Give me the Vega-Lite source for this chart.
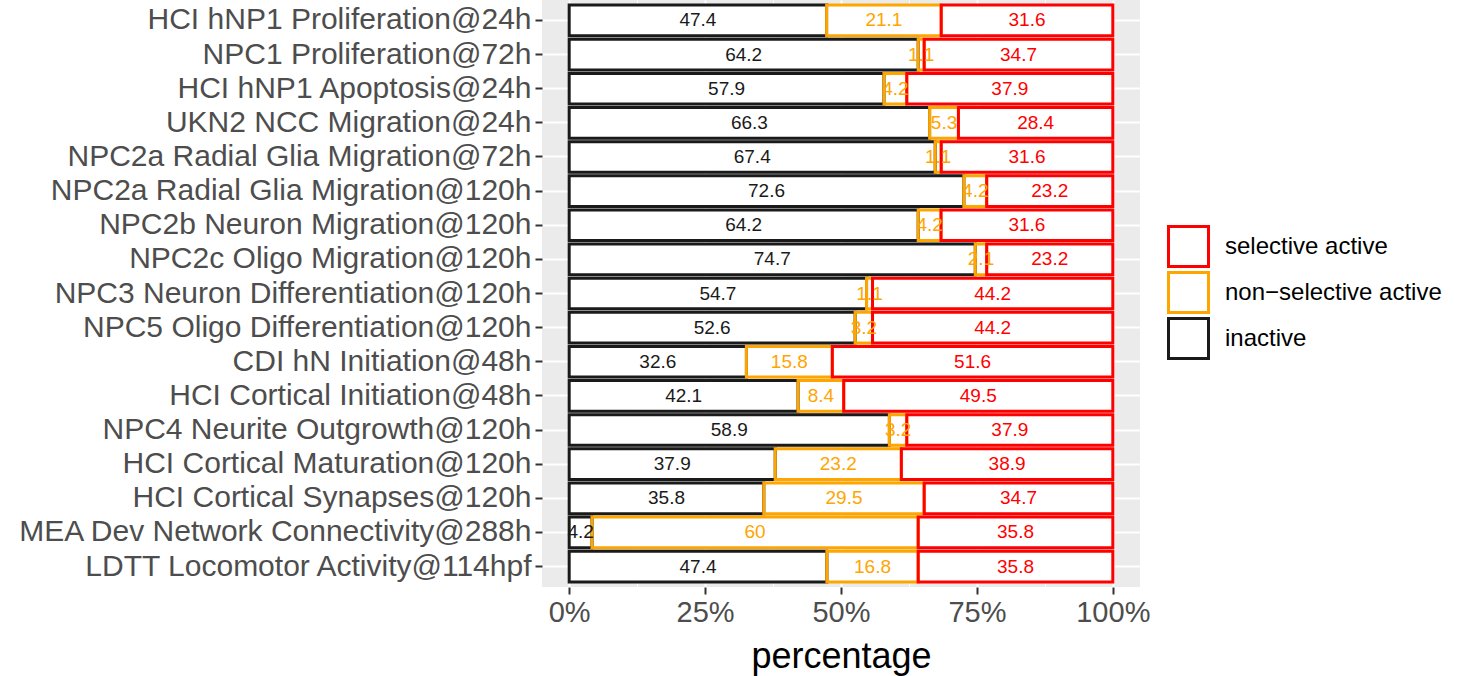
{
  "$schema": "https://vega.github.io/schema/vega-lite/v6.json",
  "width": 598,
  "height": 587,
  "autosize": {"type": "none"},
  "padding": {"left": 542, "top": 0, "right": 330, "bottom": 89},
  "background": "white",
  "config": {"view": {"fill": "#EBEBEB", "stroke": null}, "font": "Liberation Sans"},
  "datasets": {
    "main": [
      {"assay": "HCI hNP1 Proliferation@24h", "status": "inactive", "percent": 47.4},
      {"assay": "HCI hNP1 Proliferation@24h", "status": "non−selective active", "percent": 21.1},
      {"assay": "HCI hNP1 Proliferation@24h", "status": "selective active", "percent": 31.6},
      {"assay": "NPC1 Proliferation@72h", "status": "inactive", "percent": 64.2},
      {"assay": "NPC1 Proliferation@72h", "status": "non−selective active", "percent": 1.1},
      {"assay": "NPC1 Proliferation@72h", "status": "selective active", "percent": 34.7},
      {"assay": "HCI hNP1 Apoptosis@24h", "status": "inactive", "percent": 57.9},
      {"assay": "HCI hNP1 Apoptosis@24h", "status": "non−selective active", "percent": 4.2},
      {"assay": "HCI hNP1 Apoptosis@24h", "status": "selective active", "percent": 37.9},
      {"assay": "UKN2 NCC Migration@24h", "status": "inactive", "percent": 66.3},
      {"assay": "UKN2 NCC Migration@24h", "status": "non−selective active", "percent": 5.3},
      {"assay": "UKN2 NCC Migration@24h", "status": "selective active", "percent": 28.4},
      {"assay": "NPC2a Radial Glia Migration@72h", "status": "inactive", "percent": 67.4},
      {"assay": "NPC2a Radial Glia Migration@72h", "status": "non−selective active", "percent": 1.1},
      {"assay": "NPC2a Radial Glia Migration@72h", "status": "selective active", "percent": 31.6},
      {"assay": "NPC2a Radial Glia Migration@120h", "status": "inactive", "percent": 72.6},
      {"assay": "NPC2a Radial Glia Migration@120h", "status": "non−selective active", "percent": 4.2},
      {"assay": "NPC2a Radial Glia Migration@120h", "status": "selective active", "percent": 23.2},
      {"assay": "NPC2b Neuron Migration@120h", "status": "inactive", "percent": 64.2},
      {"assay": "NPC2b Neuron Migration@120h", "status": "non−selective active", "percent": 4.2},
      {"assay": "NPC2b Neuron Migration@120h", "status": "selective active", "percent": 31.6},
      {"assay": "NPC2c Oligo Migration@120h", "status": "inactive", "percent": 74.7},
      {"assay": "NPC2c Oligo Migration@120h", "status": "non−selective active", "percent": 2.1},
      {"assay": "NPC2c Oligo Migration@120h", "status": "selective active", "percent": 23.2},
      {"assay": "NPC3 Neuron Differentiation@120h", "status": "inactive", "percent": 54.7},
      {"assay": "NPC3 Neuron Differentiation@120h", "status": "non−selective active", "percent": 1.1},
      {"assay": "NPC3 Neuron Differentiation@120h", "status": "selective active", "percent": 44.2},
      {"assay": "NPC5 Oligo Differentiation@120h", "status": "inactive", "percent": 52.6},
      {"assay": "NPC5 Oligo Differentiation@120h", "status": "non−selective active", "percent": 3.2},
      {"assay": "NPC5 Oligo Differentiation@120h", "status": "selective active", "percent": 44.2},
      {"assay": "CDI hN Initiation@48h", "status": "inactive", "percent": 32.6},
      {"assay": "CDI hN Initiation@48h", "status": "non−selective active", "percent": 15.8},
      {"assay": "CDI hN Initiation@48h", "status": "selective active", "percent": 51.6},
      {"assay": "HCI Cortical Initiation@48h", "status": "inactive", "percent": 42.1},
      {"assay": "HCI Cortical Initiation@48h", "status": "non−selective active", "percent": 8.4},
      {"assay": "HCI Cortical Initiation@48h", "status": "selective active", "percent": 49.5},
      {"assay": "NPC4 Neurite Outgrowth@120h", "status": "inactive", "percent": 58.9},
      {"assay": "NPC4 Neurite Outgrowth@120h", "status": "non−selective active", "percent": 3.2},
      {"assay": "NPC4 Neurite Outgrowth@120h", "status": "selective active", "percent": 37.9},
      {"assay": "HCI Cortical Maturation@120h", "status": "inactive", "percent": 37.9},
      {"assay": "HCI Cortical Maturation@120h", "status": "non−selective active", "percent": 23.2},
      {"assay": "HCI Cortical Maturation@120h", "status": "selective active", "percent": 38.9},
      {"assay": "HCI Cortical Synapses@120h", "status": "inactive", "percent": 35.8},
      {"assay": "HCI Cortical Synapses@120h", "status": "non−selective active", "percent": 29.5},
      {"assay": "HCI Cortical Synapses@120h", "status": "selective active", "percent": 34.7},
      {"assay": "MEA Dev Network Connectivity@288h", "status": "inactive", "percent": 4.2},
      {"assay": "MEA Dev Network Connectivity@288h", "status": "non−selective active", "percent": 60},
      {"assay": "MEA Dev Network Connectivity@288h", "status": "selective active", "percent": 35.8},
      {"assay": "LDTT Locomotor Activity@114hpf", "status": "inactive", "percent": 47.4},
      {"assay": "LDTT Locomotor Activity@114hpf", "status": "non−selective active", "percent": 16.8},
      {"assay": "LDTT Locomotor Activity@114hpf", "status": "selective active", "percent": 35.8}
    ]
  },
  "data": {"name": "main"},
  "layer": [
    {
      "mark": {"type": "bar", "fill": "white", "strokeWidth": 0, "cornerRadius": 0},
      "encoding": {
        "y": {
          "field": "assay", "type": "nominal",
          "sort": ["HCI hNP1 Proliferation@24h", "NPC1 Proliferation@72h", "HCI hNP1 Apoptosis@24h", "UKN2 NCC Migration@24h", "NPC2a Radial Glia Migration@72h", "NPC2a Radial Glia Migration@120h", "NPC2b Neuron Migration@120h", "NPC2c Oligo Migration@120h", "NPC3 Neuron Differentiation@120h", "NPC5 Oligo Differentiation@120h", "CDI hN Initiation@48h", "HCI Cortical Initiation@48h", "NPC4 Neurite Outgrowth@120h", "HCI Cortical Maturation@120h", "HCI Cortical Synapses@120h", "MEA Dev Network Connectivity@288h", "LDTT Locomotor Activity@114hpf"],
          "scale": {"paddingInner": 0.1, "paddingOuter": 0.15},
          "axis": {"title": null, "domain": false, "ticks": true, "tickSize": 7, "tickColor": "#333333", "tickWidth": 2, "labelFontSize": 30, "labelColor": "#4D4D4D", "labelPadding": 4, "labelLimit": 0, "grid": true, "gridColor": "white", "gridWidth": 2, "bandPosition": 0.5}
        },
        "x": {
          "field": "percent", "type": "quantitative", "stack": "normalize",
          "scale": {"domain": [-0.05, 1.05], "nice": false, "zero": false},
          "axis": {
            "title": "percentage", "titleFontSize": 36, "titleFontWeight": "normal", "titleColor": "black", "titlePadding": 12,
            "values": [0, 0.125, 0.25, 0.375, 0.5, 0.625, 0.75, 0.875, 1],
            "labelExpr": "(round(datum.value*8) % 2 == 0) ? format(datum.value, '.0%') : ''",
            "domain": false, "tickSize": 7, "tickColor": "#333333", "tickWidth": 2,
            "tickOpacity": {"condition": {"test": "round(datum.value*8) % 2 == 1", "value": 0}, "value": 1},
            "labelFontSize": 29, "labelColor": "#4D4D4D", "labelPadding": 4, "labelFlush": false, "labelOverlap": false,
            "grid": true, "gridColor": "white",
            "gridWidth": {"condition": {"test": "round(datum.value*8) % 2 == 1", "value": 1}, "value": 2}
          }
        },
        "order": {"field": "status", "sort": "ascending"}
      }
    },
    {
      "mark": {"type": "bar", "filled": false, "strokeWidth": 3, "strokeJoin": "miter", "cornerRadius": 0},
      "encoding": {
        "y": {
          "field": "assay", "type": "nominal",
          "sort": ["HCI hNP1 Proliferation@24h", "NPC1 Proliferation@72h", "HCI hNP1 Apoptosis@24h", "UKN2 NCC Migration@24h", "NPC2a Radial Glia Migration@72h", "NPC2a Radial Glia Migration@120h", "NPC2b Neuron Migration@120h", "NPC2c Oligo Migration@120h", "NPC3 Neuron Differentiation@120h", "NPC5 Oligo Differentiation@120h", "CDI hN Initiation@48h", "HCI Cortical Initiation@48h", "NPC4 Neurite Outgrowth@120h", "HCI Cortical Maturation@120h", "HCI Cortical Synapses@120h", "MEA Dev Network Connectivity@288h", "LDTT Locomotor Activity@114hpf"]
        },
        "x": {"field": "percent", "type": "quantitative", "stack": "normalize"},
        "stroke": {
          "field": "status", "type": "nominal",
          "scale": {"domain": ["selective active", "non−selective active", "inactive"], "range": ["#FF0000", "#FFA500", "#1A1A1A"]},
          "legend": {
            "title": null, "orient": "none", "legendX": 625, "legendY": 225,
            "symbolType": "square", "symbolSize": 1600, "symbolStrokeWidth": 3, "symbolFillColor": "white",
            "labelFontSize": 24, "labelColor": "black", "labelOffset": 15, "labelLimit": 0,
            "clipHeight": 43, "rowPadding": 3
          }
        },
        "order": {"field": "status", "sort": "ascending"}
      }
    },
    {
      "mark": {"type": "text", "fontSize": 19, "baseline": "middle", "align": "center"},
      "encoding": {
        "y": {"field": "assay", "type": "nominal", "sort": ["HCI hNP1 Proliferation@24h", "NPC1 Proliferation@72h", "HCI hNP1 Apoptosis@24h", "UKN2 NCC Migration@24h", "NPC2a Radial Glia Migration@72h", "NPC2a Radial Glia Migration@120h", "NPC2b Neuron Migration@120h", "NPC2c Oligo Migration@120h", "NPC3 Neuron Differentiation@120h", "NPC5 Oligo Differentiation@120h", "CDI hN Initiation@48h", "HCI Cortical Initiation@48h", "NPC4 Neurite Outgrowth@120h", "HCI Cortical Maturation@120h", "HCI Cortical Synapses@120h", "MEA Dev Network Connectivity@288h", "LDTT Locomotor Activity@114hpf"]},
        "x": {"field": "percent", "type": "quantitative", "stack": "normalize", "bandPosition": 0.5},
        "text": {"field": "percent", "type": "quantitative", "format": ".3~r"},
        "fill": {
          "condition": [
            {"test": "datum.status == 'selective active'", "value": "#FF0000"},
            {"test": "datum.status == 'non−selective active'", "value": "#FFA500"}
          ],
          "value": "#1A1A1A"
        },
        "order": {"field": "status", "sort": "ascending"}
      }
    }
  ]
}
